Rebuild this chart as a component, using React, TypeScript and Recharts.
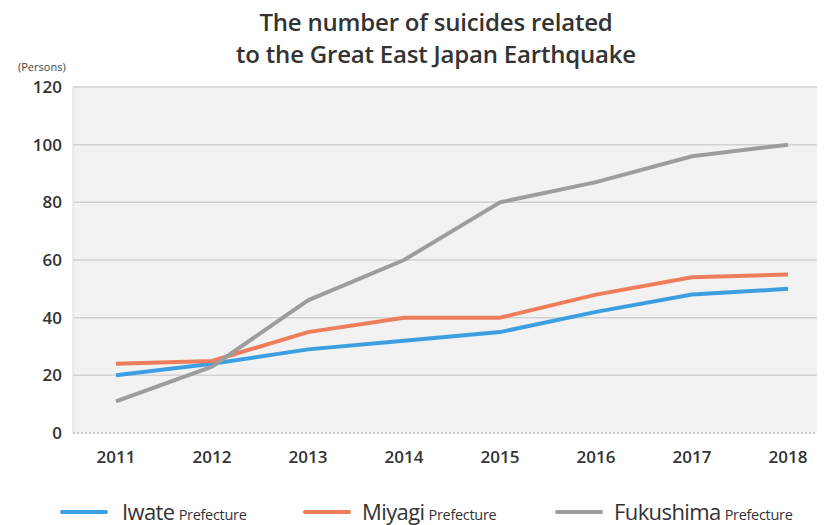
import React from "react";
import { LineChart, Line, XAxis, YAxis, CartesianGrid, Legend } from "recharts";

const years = ["2011", "2012", "2013", "2014", "2015", "2016", "2017", "2018"];
const iwate = [20, 24, 29, 32, 35, 42, 48, 50];
const miyagi = [24, 25, 35, 40, 40, 48, 54, 55];
const fukushima = [11, 23, 46, 60, 80, 87, 96, 100];
const yTicks = [0, 20, 40, 60, 80, 100, 120];

const seriesInfo = [
  { key: "iwate", name: "Iwate", color: "#3d9fe2", swatch: 60, label: 122 },
  { key: "miyagi", name: "Miyagi", color: "#ee7d5c", swatch: 303, label: 362 },
  { key: "fukushima", name: "Fukushima", color: "#9d9d9d", swatch: 555, label: 614 },
];

const data = years.map((y, i) => ({
  year: y,
  iwate: iwate[i],
  miyagi: miyagi[i],
  fukushima: fukushima[i],
}));

const font = "'Open Sans', 'Noto Sans', sans-serif";

const renderLegend = () => (
  <div style={{ position: "relative", width: 825, height: 26, fontFamily: font, color: "#333" }}>
    {seriesInfo.map((s) => (
      <React.Fragment key={s.key}>
        <div
          style={{
            position: "absolute",
            left: s.swatch,
            top: 12,
            width: 48,
            height: 4,
            background: s.color,
            borderRadius: 2,
          }}
        />
        <div
          style={{
            position: "absolute",
            left: s.label,
            top: 0,
            whiteSpace: "nowrap",
            lineHeight: "26px",
          }}
        >
          <span style={{ fontSize: 22, fontWeight: 500, letterSpacing: -0.6 }}>{s.name}</span>
          <span style={{ fontSize: 14.5, marginLeft: 4, letterSpacing: -0.3 }}>Prefecture</span>
        </div>
      </React.Fragment>
    ))}
  </div>
);

export default function App() {
  return (
    <div style={{ position: "absolute", left: 0, top: 0, width: 825, height: 525, background: "#fff" }}>
      <div
        style={{
          position: "absolute",
          left: 0,
          width: 872,
          top: 6,
          textAlign: "center",
          fontFamily: font,
          fontWeight: 600,
          fontSize: 24,
          lineHeight: "32px",
          color: "#333",
          letterSpacing: -0.2,
        }}
      >
        The number of suicides related
        <br />
        to the Great East Japan Earthquake
      </div>
      <div
        style={{
          position: "absolute",
          left: 18,
          top: 59,
          fontFamily: font,
          fontSize: 11,
          color: "#444",
        }}
      >
        (Persons)
      </div>
      <LineChart
        width={825}
        height={525}
        data={data}
        margin={{ top: 87, right: 8, bottom: 1, left: 0 }}
      >
        <CartesianGrid
          vertical={false}
          fill="#f2f2f2"
          stroke="#d2d2d2"
          strokeWidth={1.5}
          horizontalValues={[20, 40, 60, 80, 100, 120]}
        />
        <XAxis
          dataKey="year"
          padding={{ left: 43, right: 29 }}
          tickLine={false}
          axisLine={{ stroke: "#c8c8c8", strokeDasharray: "2 2", strokeWidth: 2 }}
          tick={{ fill: "#333", fontSize: 17, fontWeight: 600, fontFamily: font }}
          tickMargin={12}
          height={65}
          interval={0}
        />
        <YAxis
          domain={[0, 120]}
          ticks={yTicks}
          width={73}
          tickLine={false}
          axisLine={{ stroke: "#dcdcdc" }}
          tick={{ fill: "#333", fontSize: 17, fontWeight: 600, fontFamily: font }}
          tickMargin={5}
          interval={0}
        />
        <YAxis
          yAxisId="right"
          orientation="right"
          width={0}
          tick={false}
          tickLine={false}
          axisLine={{ stroke: "#e2e2e2" }}
        />
        <Legend verticalAlign="bottom" content={renderLegend} wrapperStyle={{ left: 0, width: 825 }} />
        {seriesInfo.map((s) => (
          <Line
            key={s.key}
            type="linear"
            dataKey={s.key}
            name={s.name}
            stroke={s.color}
            strokeWidth={4}
            dot={false}
            activeDot={false}
            isAnimationActive={false}
          />
        ))}
      </LineChart>
    </div>
  );
}
